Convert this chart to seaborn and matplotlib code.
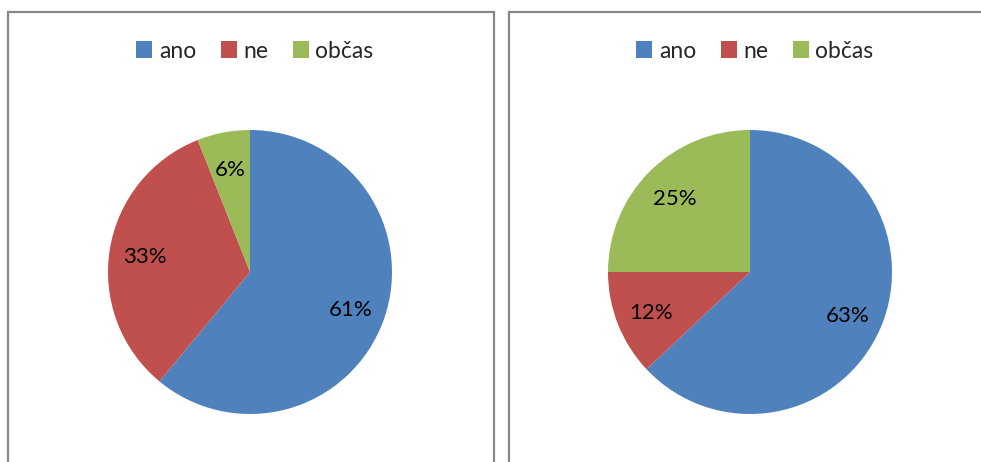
import matplotlib
matplotlib.use("Agg")
import matplotlib.pyplot as plt
from matplotlib.patches import Rectangle, Patch
import numpy as np
import seaborn as sns

categories = ["ano", "ne", "občas"]
left_values = [61, 33, 6]
right_values = [63, 12, 25]
left_labels = ["61%", "33%", "6%"]
right_labels = ["63%", "12%", "25%"]

sns.set_theme(style="white")
plt.rcParams['font.family'] = ['Lato', 'DejaVu Sans']
colors = sns.color_palette(["#4F81BD", "#C0504D", "#9BBB59"])

W, H = 981, 462
fig = plt.figure(figsize=(W / 100, H / 100), dpi=100)

def px_rect(x0, y0, x1, y1):
    return [x0 / W, 1 - y1 / H, (x1 - x0) / W, (y1 - y0) / H]

# panel borders
for (x0, x1) in [(7.5, 493.5), (508.5, 990)]:
    r = Rectangle((x0 / W, -0.1), (x1 - x0) / W, (1 - 12.5 / H) + 0.1,
                  transform=fig.transFigure, fill=False,
                  edgecolor="#878787", linewidth=1.6, clip_on=False)
    fig.add_artist(r)

def draw_pie(cx, values, labels, legend_cx):
    cy, R = 272, 142
    ax = fig.add_axes(px_rect(cx - R, cy - R, cx + R, cy + R))
    wedges, _ = ax.pie(values, colors=colors, startangle=90, counterclock=False,
                       radius=1.0, wedgeprops=dict(linewidth=0))
    for w, lab in zip(wedges, labels):
        ang = np.deg2rad((w.theta1 + w.theta2) / 2)
        ax.text(0.75 * np.cos(ang), 0.75 * np.sin(ang) - 0.015, lab, ha="center",
                va="center", fontsize=16, color="black")
    ax.set_xlim(-1, 1)
    ax.set_ylim(-1, 1)
    ax.set_aspect("equal")
    ax.axis("off")
    handles = [Patch(facecolor=c, edgecolor="none", label=cat) for c, cat in zip(colors, categories)]
    fig.legend(handles=handles, loc="center", bbox_to_anchor=(legend_cx / W, 1 - 51 / H),
               ncol=3, frameon=False, fontsize=16.5, handlelength=0.7, handleheight=0.7,
               handletextpad=0.3, columnspacing=1.05)

draw_pie(250, left_values, left_labels, 255)
draw_pie(750, right_values, right_labels, 755)

fig.savefig("out.png", dpi=100, facecolor="white")
